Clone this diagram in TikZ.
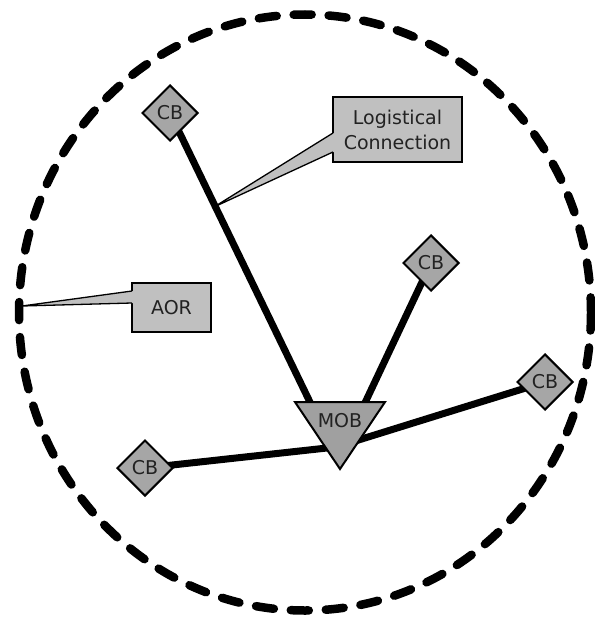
\documentclass[tikz,border=0pt]{standalone}
\usepackage{fontspec}
\setmainfont{DejaVu Sans}
\usetikzlibrary{shapes.geometric,backgrounds}
\definecolor{boxgray}{HTML}{C0C0C0}
\definecolor{cbgray}{HTML}{A6A6A6}
\definecolor{mobgray}{HTML}{A0A0A0}
\definecolor{txt}{HTML}{222222}
\tikzset{
  cbnode/.style={diamond, draw=black, line width=2pt, fill=cbgray, minimum width=56pt, minimum height=56pt, inner sep=0pt, text=txt, font=\fontsize{19}{23}\selectfont},
  link/.style={line width=7pt},
  callbox/.style={draw=black, line width=1.3pt, fill=boxgray, inner sep=0pt, text=txt, align=center, font=\fontsize{19}{25}\selectfont},
  aor/.style={line width=8.5pt, dash pattern=on 18pt off 17pt, line cap=round},
}
\begin{document}
\begin{tikzpicture}[x=1pt,y=-1pt]
\useasboundingbox (0,0) rectangle (594,618);
% area of responsibility
\draw[aor] (305,312.5) ellipse [x radius=286, y radius=298];
% hubs
\coordinate (hubtop) at (338,460);
\coordinate (hubbot) at (336,447);
% CB nodes
\node[cbnode] (cb1) at (170,113) {CB};
\node[cbnode] (cb2) at (431,263) {CB};
\node[cbnode] (cb3) at (545,382) {CB};
\node[cbnode] (cb4) at (145,468) {CB};
\begin{scope}[on background layer]
\draw[link] (cb1.center) -- (hubtop);
\draw[link] (cb2.center) -- (hubtop);
\draw[link] (cb3.center) -- (hubbot);
\draw[link] (cb4.center) -- (hubbot);
\end{scope}
% MOB triangle
\filldraw[fill=mobgray, draw=black, line width=2pt, line join=miter] (295,402) -- (385,402) -- (340,469) -- cycle;
\node[text=txt, font=\fontsize{19}{23}\selectfont] (mob) at (340,421) {MOB};
% Logistical Connection callout
\node[callbox, minimum width=129pt, minimum height=65pt] (lc) at (397.5,129.5) {Logistical\\Connection};
\coordinate (lctip) at (214,207);
\fill[boxgray] (lctip) -- (333,133) -- (335,133) -- (335,152) -- (333,152) -- cycle;
\draw[line width=1.3pt] (333,133) -- (lctip) -- (333,152);
% AOR callout
\node[callbox, minimum width=79pt, minimum height=49pt] (aorbox) at (171.5,307.5) {AOR};
\coordinate (aortip) at (22,306);
\fill[boxgray] (aortip) -- (132,291) -- (134,291) -- (134,303) -- (132,303) -- cycle;
\draw[line width=1.3pt] (132,291) -- (aortip) -- (132,303);
\end{tikzpicture}
\end{document}
